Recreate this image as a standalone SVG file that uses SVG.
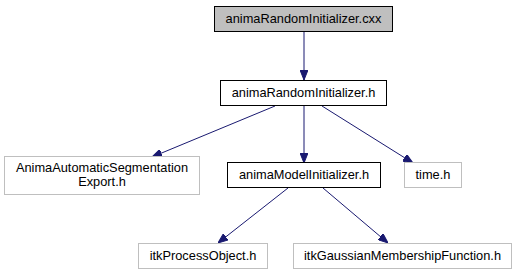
<svg xmlns="http://www.w3.org/2000/svg" width="517" height="277" viewBox="0 0 517 277">
  <style>
    .box { fill: #ffffff; stroke: #000000; stroke-width: 1; }
    .ext { fill: #ffffff; stroke: #bfbfbf; stroke-width: 1; }
    .root { fill: #bfbfbf; stroke: #000000; stroke-width: 1; }
    .lbl { font-family: "Liberation Sans", Arial, Helvetica, sans-serif; font-size: 12.8px; fill: #000000; text-anchor: middle; }
    .edge { fill: none; stroke: #191970; stroke-width: 1; }
  </style>
  <defs>
    <marker id="arrow" markerWidth="10" markerHeight="8" refX="10" refY="4" orient="auto" markerUnits="userSpaceOnUse">
      <path d="M0,0 L10,4 L0,8 Z" fill="#191970" stroke="#191970" stroke-width="1"/>
    </marker>
  </defs>
  <rect width="517" height="277" fill="#ffffff"/>

  <g id="edges">
    <line class="edge" x1="304" y1="31" x2="304" y2="80" marker-end="url(#arrow)"/>
    <line class="edge" x1="275" y1="106" x2="152" y2="157" marker-end="url(#arrow)"/>
    <line class="edge" x1="304" y1="106" x2="304" y2="163" marker-end="url(#arrow)"/>
    <line class="edge" x1="322" y1="106" x2="413" y2="163" marker-end="url(#arrow)"/>
    <line class="edge" x1="288" y1="188" x2="218" y2="243" marker-end="url(#arrow)"/>
    <line class="edge" x1="323" y1="188" x2="388" y2="243" marker-end="url(#arrow)"/>
  </g>

  <g id="node_cxx">
    <rect class="root" x="214.5" y="6.5" width="178" height="25"/>
    <text class="lbl" x="303.5" y="23">animaRandomInitializer.cxx</text>
  </g>
  <g id="node_h">
    <rect class="box" x="220.5" y="80.5" width="166" height="25"/>
    <text class="lbl" x="303.5" y="97">animaRandomInitializer.h</text>
  </g>
  <g id="node_export">
    <rect class="ext" x="4.5" y="156.5" width="195" height="38"/>
    <text class="lbl" x="102" y="172">AnimaAutomaticSegmentation</text>
    <text class="lbl" x="102" y="186">Export.h</text>
  </g>
  <g id="node_model">
    <rect class="box" x="227.5" y="162.5" width="153" height="25"/>
    <text class="lbl" x="304" y="179">animaModelInitializer.h</text>
  </g>
  <g id="node_time">
    <rect class="ext" x="404.5" y="162.5" width="57" height="25"/>
    <text class="lbl" x="433" y="179">time.h</text>
  </g>
  <g id="node_process">
    <rect class="ext" x="138.5" y="243.5" width="129" height="25"/>
    <text class="lbl" x="203" y="260">itkProcessObject.h</text>
  </g>
  <g id="node_gaussian">
    <rect class="ext" x="293.5" y="243.5" width="218" height="25"/>
    <text class="lbl" x="402.5" y="260">itkGaussianMembershipFunction.h</text>
  </g>
</svg>
